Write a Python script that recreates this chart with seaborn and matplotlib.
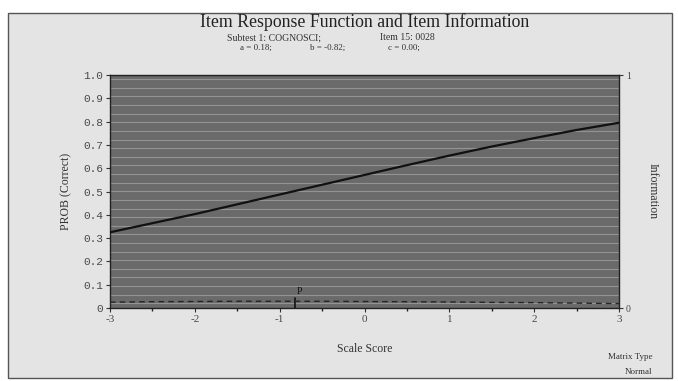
import numpy as np
import pandas as pd
import matplotlib
matplotlib.use("Agg")
import matplotlib.pyplot as plt
from matplotlib.patches import Rectangle
import seaborn as sns

# values
theta = [-3, -2.5, -2, -1.5, -1, -0.5, 0, 0.5, 1, 1.5, 2, 2.5, 3]
prob_correct = [0.325, 0.364, 0.403, 0.445, 0.487, 0.529, 0.571, 0.613, 0.654, 0.693, 0.729, 0.764, 0.795]
information = [0.025, 0.027, 0.028, 0.029, 0.029, 0.029, 0.028, 0.027, 0.026, 0.024, 0.023, 0.021, 0.019]
b_param = -0.82

x_ticks = [-3, -2, -1, 0, 1, 2, 3]
y_ticks = [0, 0.1, 0.2, 0.3, 0.4, 0.5, 0.6, 0.7, 0.8, 0.9, 1.0]
y_labels = ["0", "0.1", "0.2", "0.3", "0.4", "0.5", "0.6", "0.7", "0.8", "0.9", "1.0"]

df = pd.DataFrame({"theta": theta, "prob": prob_correct, "info": information})

sns.set_theme(style="ticks")
plt.rcParams["font.family"] = ["Liberation Serif", "DejaVu Serif"]

fig = plt.figure(figsize=(6.78, 3.81), dpi=100)
fig.patch.set_facecolor("white")
fig.patches.append(Rectangle((8 / 678, 3 / 381), 664 / 678, 365 / 381, transform=fig.transFigure,
                             facecolor="#e4e4e4", edgecolor="#555555", lw=1.0, zorder=-10))

ax = fig.add_axes([110 / 678, 1 - 308 / 381, 509 / 678, 233 / 381])
ax.set_facecolor("#6a6a6a")
# scan streaks approximated with light grid lines
for yy in np.arange(0.02, 1.0, 0.037):
    ax.axhline(yy, color="#b0b0b0", lw=0.8, alpha=0.6, zorder=0)

sns.lineplot(data=df, x="theta", y="prob", ax=ax, color="#111111", lw=1.6, zorder=3)
ax.set_xlim(-3, 3)
ax.set_ylim(0, 1)
ax.set_xticks(x_ticks)
ax.set_xticks(np.arange(-2.5, 3, 1.0), minor=True)
ax.set_yticks(y_ticks)
ax.set_yticklabels(y_labels, family=["Liberation Mono", "DejaVu Sans Mono"], fontsize=8, color="#4a4a4a")
ax.set_xticklabels([str(t) for t in x_ticks], fontsize=8, color="#4a4a4a")
ax.tick_params(axis="both", length=3, width=0.8, color="#333333", pad=2)
ax.tick_params(axis="x", which="minor", length=2)
ax.set_xlabel("Scale Score", fontsize=8.5, color="#333333", labelpad=14)
ax.set_ylabel("PROB (Correct)", fontsize=8.5, color="#333333", labelpad=8)
for s in ax.spines.values():
    s.set_color("#222222")
    s.set_linewidth(1.0)

# b-parameter marker
ax.plot([b_param, b_param], [0, 0.045], color="#111111", lw=1.2, zorder=4)
ax.text(b_param + 0.05, 0.05, "P", fontsize=7, color="#111111", va="bottom", ha="center", zorder=4)

ax2 = ax.twinx()
sns.lineplot(data=df, x="theta", y="info", ax=ax2, color="#262626", lw=1.0, ls=(0, (4, 3)), zorder=3)
ax2.set_ylim(0, 1)
ax2.set_yticks([0, 1])
ax2.set_yticklabels(["0", "1"], fontsize=7, color="#444444")
ax2.tick_params(axis="y", length=3, width=0.8, color="#333333", pad=2)
ax2.set_ylabel("Information", fontsize=8.5, color="#333333", rotation=-90, labelpad=20)
for s in ax2.spines.values():
    s.set_visible(False)

fig.text(365 / 678, 1 - 22 / 381, "Item Response Function and Item Information",
         ha="center", va="center", fontsize=12.8, color="#222222")
fig.text(227 / 678, 1 - 38 / 381, "Subtest 1: COGNOSCI;", ha="left", va="center", fontsize=7, color="#333333")
fig.text(380 / 678, 1 - 38 / 381, "Item 15: 0028", ha="left", va="center", fontsize=7, color="#333333")
fig.text(240 / 678, 1 - 48 / 381, "a = 0.18;", ha="left", va="center", fontsize=6.5, color="#333333")
fig.text(310 / 678, 1 - 48 / 381, "b = -0.82;", ha="left", va="center", fontsize=6.5, color="#333333")
fig.text(388 / 678, 1 - 48 / 381, "c = 0.00;", ha="left", va="center", fontsize=6.5, color="#333333")
fig.text(653 / 678, 1 - 357 / 381, "Matrix Type", ha="right", va="center", fontsize=6.5, color="#333333")
fig.text(652 / 678, 1 - 372 / 381, "Normal", ha="right", va="center", fontsize=6.5, color="#333333")

fig.savefig("out.png", dpi=100, facecolor=fig.get_facecolor())
